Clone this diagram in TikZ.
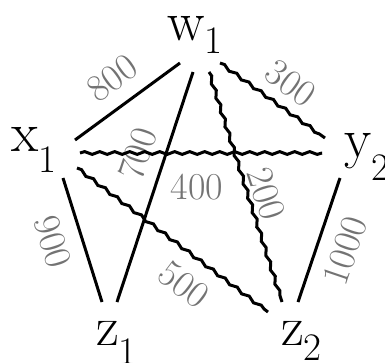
\documentclass[tikz,border=0pt]{standalone}
\usetikzlibrary{decorations.pathmorphing}
\newcommand{\vlab}[3]{{\fontsize{56}{56}\selectfont #1}\raisebox{-#3pt}{\fontsize{39}{39}\selectfont #2}}
\begin{document}
\begin{tikzpicture}[x=1pt,y=-1pt,
  vert/.style={inner sep=0pt,anchor=base west},
  edge/.style={line width=3pt,black},
  wavy/.style={edge,decorate,decoration={snake,amplitude=1.4pt,segment length=15pt}},
  wlab/.style={inner sep=0pt,sloped,text=black!55,font=\fontsize{38}{38}\selectfont}]
\useasboundingbox (0,0) rectangle (385,362);
\node[vert] (w1) at (167,40) {\vlab{w}{1}{13}};
\node[vert] (x1) at (11,151) {\vlab{x}{1}{21}};
\node[vert] (y2) at (344,157) {\vlab{y}{2}{23}};
\node[vert] (z1) at (96,345) {\vlab{z}{1}{19}};
\node[vert] (z2) at (281,345) {\vlab{z}{2}{15}};
% straight edges
\draw[edge] ([shift={(64,-11)}]x1.base west) -- node[wlab,pos=0.514,above=13.4pt]{800} ([shift={(13,23)}]w1.base west);
\draw[edge] ([shift={(26,32)}]w1.base west) -- node[wlab,pos=0.394,above=12.3pt]{700} ([shift={(21,-43)}]z1.base west);
\draw[edge] ([shift={(52,27)}]x1.base west) -- node[wlab,pos=0.444,below=14.5pt]{900} ([shift={(6,-43)}]z1.base west);
\draw[edge] ([shift={(-4,21)}]y2.base west) -- node[wlab,pos=0.514,below=13.9pt]{1000} ([shift={(17,-43)}]z2.base west);
% wavy edges
\draw[wavy] ([shift={(53,23)}]w1.base west) -- node[wlab,pos=0.535,above=10.2pt]{300} ([shift={(-19,-19)}]y2.base west);
\draw[wavy] ([shift={(69,2)}]x1.base west) -- node[wlab,pos=0.483,below=20pt]{400} ([shift={(-22,-4)}]y2.base west);
\draw[wavy] ([shift={(42,32)}]w1.base west) -- node[wlab,pos=0.553,above=3.3pt]{200} ([shift={(1,-43)}]z2.base west);
\draw[wavy] ([shift={(66,17)}]x1.base west) -- node[wlab,pos=0.65,below=14.8pt]{500} ([shift={(-13,-33)}]z2.base west);
\end{tikzpicture}
\end{document}
